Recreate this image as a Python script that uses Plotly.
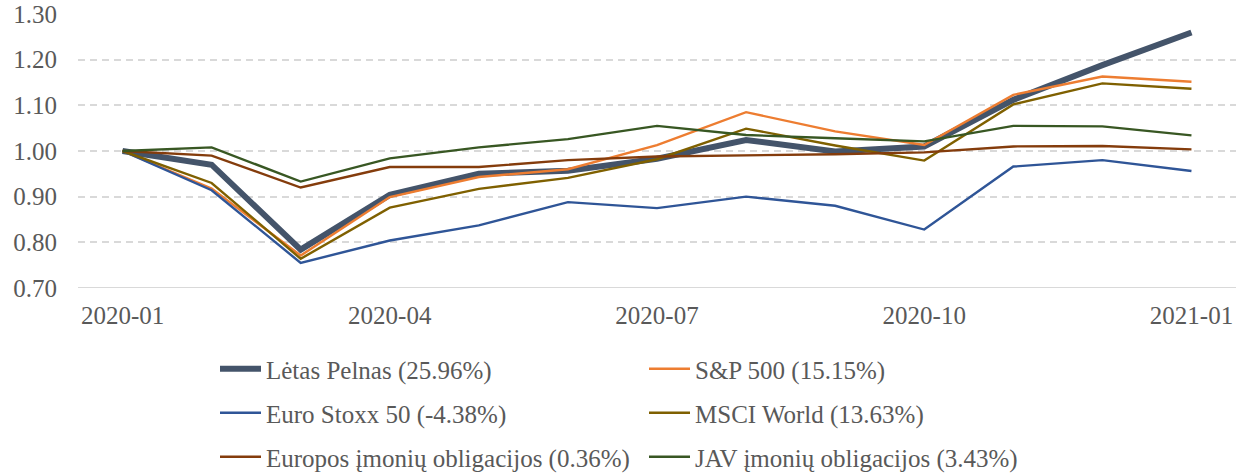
import plotly.graph_objects as go

months = ["2020-01", "2020-02", "2020-03", "2020-04", "2020-05", "2020-06", "2020-07",
          "2020-08", "2020-09", "2020-10", "2020-11", "2020-12", "2021-01"]
tick_months = ["2020-01", "2020-04", "2020-07", "2020-10", "2021-01"]

letas_pelnas = [1.000, 0.970, 0.784, 0.904, 0.950, 0.957, 0.983, 1.024, 0.999, 1.010, 1.112, 1.188, 1.2596]
sp500 = [1.000, 0.918, 0.771, 0.899, 0.943, 0.960, 1.013, 1.085, 1.043, 1.013, 1.123, 1.163, 1.1515]
euro_stoxx = [1.000, 0.914, 0.755, 0.804, 0.837, 0.888, 0.875, 0.900, 0.880, 0.828, 0.966, 0.980, 0.9562]
msci_world = [1.000, 0.930, 0.764, 0.876, 0.917, 0.941, 0.982, 1.049, 1.012, 0.979, 1.102, 1.148, 1.1363]
europos_obl = [1.000, 0.990, 0.920, 0.965, 0.965, 0.980, 0.988, 0.990, 0.993, 0.997, 1.010, 1.011, 1.0036]
jav_obl = [1.000, 1.008, 0.933, 0.984, 1.008, 1.026, 1.055, 1.035, 1.028, 1.021, 1.055, 1.054, 1.0343]

names = ["Lėtas Pelnas (25.96%)", "S&P 500 (15.15%)", "Euro Stoxx 50 (-4.38%)",
         "MSCI World (13.63%)", "Europos įmonių obligacijos (0.36%)", "JAV įmonių obligacijos (3.43%)"]
series = [letas_pelnas, sp500, euro_stoxx, msci_world, europos_obl, jav_obl]
colors = ["#44546A", "#ED7D31", "#2F5597", "#7F6000", "#843C0C", "#385723"]
widths = [6, 2.4, 2.4, 2.4, 2.4, 2.4]
legends = ["legend", "legend", "legend2", "legend2", "legend3", "legend3"]

FONT = "Liberation Serif"
TXT = "#595959"

fig = go.Figure()
for n, s, c, w, lg in zip(names, series, colors, widths, legends):
    fig.add_trace(go.Scatter(
        x=months, y=s, name=n, mode="lines",
        line=dict(color=c, width=w), legend=lg,
    ))

W, H = 1240, 476
ml, mr, mt, mb = 78, 4, 14, 188
pw = W - ml - mr
ph = H - mt - mb


def px_x(px):
    return (px - ml) / pw


def px_y(py):
    return (H - mb - py) / ph


leg_common = dict(
    orientation="h", entrywidth=373, entrywidthmode="pixels", itemwidth=41,
    font=dict(family=FONT, size=25, color=TXT), bgcolor="rgba(0,0,0,0)",
    xanchor="left", yanchor="middle", borderwidth=0,
)

fig.update_layout(
    width=W, height=H,
    margin=dict(l=ml, r=mr, t=mt, b=mb, autoexpand=False),
    paper_bgcolor="white", plot_bgcolor="white",
    font=dict(family=FONT, size=25, color=TXT),
    showlegend=True,
    legend=dict(x=px_x(215), y=px_y(369), **leg_common),
    legend2=dict(x=px_x(215), y=px_y(413), **leg_common),
    legend3=dict(x=px_x(215), y=px_y(457), **leg_common),
    xaxis=dict(
        type="category", categoryorder="array", categoryarray=months,
        range=[-0.5, len(months) - 0.5],
        tickmode="array", tickvals=tick_months, ticktext=tick_months,
        showgrid=False, zeroline=False, showline=False, ticks="",
        ticklabelstandoff=10,
        tickfont=dict(family=FONT, size=25, color=TXT),
    ),
    yaxis=dict(
        range=[0.70, 1.30], dtick=0.10, tick0=0.70, tickformat=".2f",
        showgrid=True, gridcolor="#D9D9D9", gridwidth=1.5, griddash="7px,5px",
        zeroline=False, showline=False, ticks="",
        ticklabelstandoff=20,
        tickfont=dict(family=FONT, size=25, color=TXT),
    ),
)

# solid bottom axis line at 0.70
fig.add_shape(type="line", xref="paper", yref="y", x0=0, x1=1, y0=0.70, y1=0.70,
              line=dict(color="#D9D9D9", width=2), layer="below")

fig.write_html("out.html", config={"displayModeBar": False},
               post_script="document.body.style.margin='0';")
